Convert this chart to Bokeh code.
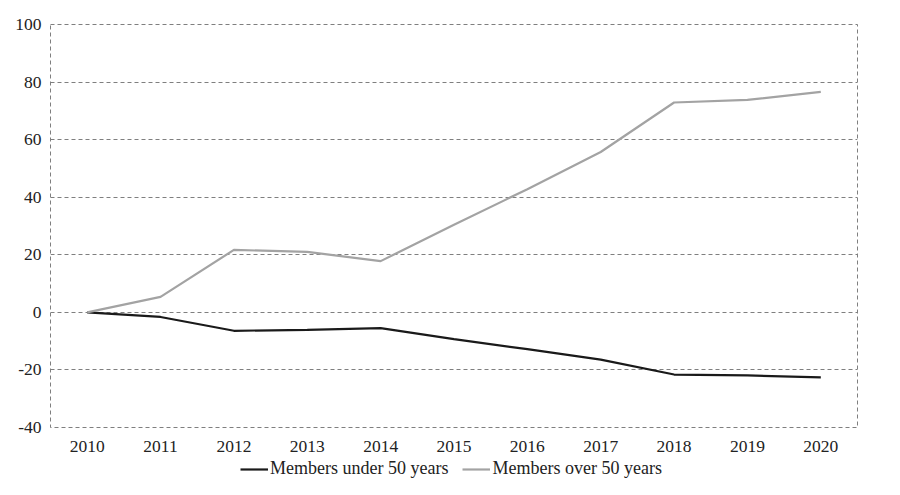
from bokeh.plotting import figure
from bokeh.models import FactorRange, Range1d, FixedTicker, Legend, LegendItem
from bokeh.layouts import column
from bokeh.embed import file_html
from bokeh.resources import INLINE

years = ["2010", "2011", "2012", "2013", "2014", "2015", "2016", "2017", "2018", "2019", "2020"]
under_50 = [0, -1.6, -6.4, -6.1, -5.5, -9.3, -12.8, -16.4, -21.6, -21.9, -22.6]
over_50 = [0, 5.4, 21.7, 21.0, 17.8, 30.4, 42.8, 55.7, 72.9, 73.8, 76.6]
y_ticks = [-40, -20, 0, 20, 40, 60, 80, 100]
series_names = ["Members under 50 years", "Members over 50 years"]
series_colors = ["#1a1a1a", "#a3a3a3"]

FONT = "'Liberation Serif', 'Times New Roman', Times, serif"
GRID = "#7f7f7f"

p = figure(
    x_range=FactorRange(*years), y_range=Range1d(-40, 100),
    width=884, height=454,
    min_border_left=50, min_border_right=27, min_border_top=24, min_border_bottom=0,
    output_backend="svg", toolbar_location=None,
)
p.background_fill_color = "white"
p.border_fill_color = "white"
p.outline_line_color = GRID
p.outline_line_dash = "4 3"
p.outline_line_width = 1

p.xgrid.grid_line_color = None
p.ygrid.grid_line_color = GRID
p.ygrid.grid_line_dash = "4 3"
p.ygrid.grid_line_width = 1

p.yaxis.ticker = FixedTicker(ticks=y_ticks)
p.yaxis.major_label_overrides = {t: str(t) for t in y_ticks}
for ax in (p.xaxis, p.yaxis):
    ax.axis_label = None
    ax.axis_line_color = None
    ax.major_tick_line_color = None
    ax.minor_tick_line_color = None
    ax.major_tick_out = 0
    ax.major_tick_in = 0
    ax.minor_tick_out = 0
    ax.minor_tick_in = 0
    ax.axis_label_standoff = 0
    ax.major_label_text_font = FONT
    ax.major_label_text_font_size = "17.5px"
    ax.major_label_text_color = "#222222"
p.yaxis.major_label_standoff = 9
p.xaxis.major_label_standoff = 13

p.line(years, under_50, line_color=series_colors[0], line_width=2.2)
p.line(years, over_50, line_color=series_colors[1], line_width=2.2)

# legend strip below the chart (its own lines lie outside its visible range)
lg = figure(
    width=884, height=25, x_range=FactorRange(*years), y_range=Range1d(1000, 1001),
    x_axis_type=None, y_axis_type=None,
    min_border=0, output_backend="svg", toolbar_location=None,
)
lg.outline_line_color = None
lg.xgrid.grid_line_color = None
lg.ygrid.grid_line_color = None
k1 = lg.line(years, under_50, line_color=series_colors[0], line_width=2.2)
k2 = lg.line(years, over_50, line_color=series_colors[1], line_width=2.2)
legend = Legend(
    items=[LegendItem(label=series_names[0], renderers=[k1]),
           LegendItem(label=series_names[1], renderers=[k2])],
    orientation="horizontal", location=(190, 0),
    label_text_font=FONT, label_text_font_size="18px", label_text_color="#222222",
    glyph_width=28, label_standoff=2, spacing=14,
    border_line_color=None, background_fill_alpha=0, padding=2, margin=0,
)
lg.add_layout(legend, "center")

layout = column(p, lg, spacing=0)
open("out.html", "w").write(file_html(layout, INLINE))
